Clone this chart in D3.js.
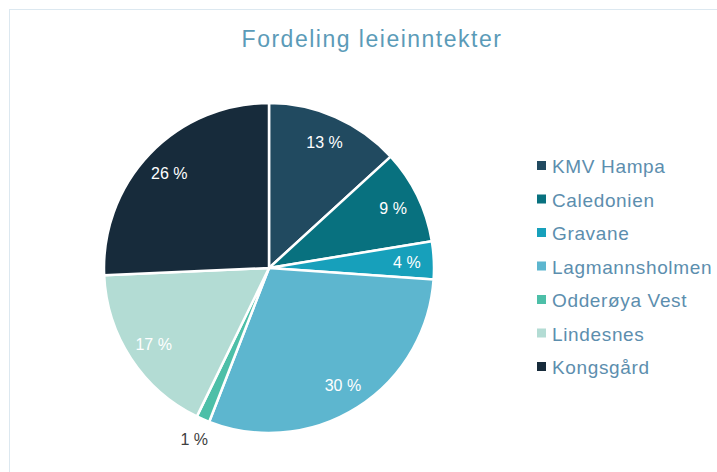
<!DOCTYPE html>
<html>
<head>
<meta charset="utf-8">
<script src="https://cdn.jsdelivr.net/npm/d3@7"></script>
<style>
  html, body { margin: 0; padding: 0; background: #ffffff; }
  svg { display: block; font-family: "Liberation Sans", Arial, sans-serif; }
</style>
</head>
<body>
<svg id="chart" width="717" height="472"></svg>
<script>
const title = "Fordeling leieinntekter";
const categories = ["KMV Hampa", "Caledonien", "Gravane", "Lagmannsholmen", "Odderøya Vest", "Lindesnes", "Kongsgård"];
const shares = [13.2, 9.2, 3.7, 29.8, 1.3, 17.1, 25.7];
const labels = ["13 %", "9 %", "4 %", "30 %", "1 %", "17 %", "26 %"];
const colors = ["#214a60", "#08717f", "#17a0bb", "#5db6cf", "#4dbfa8", "#b3dcd4", "#172b3b"];

const data = categories.map((c, i) => ({ name: c, value: shares[i], label: labels[i], color: colors[i] }));

const svg = d3.select("#chart");
const W = 717, H = 472;

// chart area frame
svg.append("rect")
  .attr("x", 9.5).attr("y", 9.5)
  .attr("width", W - 9).attr("height", H)
  .attr("fill", "#ffffff")
  .attr("stroke", "#dce8f0").attr("stroke-width", 1);

// title
svg.append("text")
  .attr("x", 372).attr("y", 47)
  .attr("text-anchor", "middle")
  .attr("font-size", 23)
  .attr("letter-spacing", 1.5)
  .attr("fill", "#5b9bb8")
  .text(title);

const cx = 269, cy = 268, R = 165;
const g = svg.append("g").attr("transform", `translate(${cx},${cy})`);

const pie = d3.pie().value(d => d.value).sort(null);
const arc = d3.arc().innerRadius(0).outerRadius(R);
const arcs = pie(data);

g.selectAll("path.slice")
  .data(arcs)
  .join("path")
  .attr("class", "slice")
  .attr("d", arc)
  .attr("fill", d => d.data.color)
  .attr("stroke", "#ffffff")
  .attr("stroke-width", 2.5)
  .attr("stroke-linejoin", "round");

const inLabel = d3.arc().innerRadius(138).outerRadius(138);
const outLabel = d3.arc().innerRadius(R + 22).outerRadius(R + 22);

g.selectAll("text.lbl")
  .data(arcs)
  .join("text")
  .attr("class", "lbl")
  .each(function(d) {
    const outside = d.data.value < 2;
    const p = (outside ? outLabel : inLabel).centroid(d);
    d3.select(this)
      .attr("x", p[0]).attr("y", p[1] + 6)
      .attr("fill", outside ? "#404040" : "#ffffff");
  })
  .attr("text-anchor", "middle")
  .attr("font-size", 16)
  .text(d => d.data.label);

// legend
const legend = svg.append("g").attr("transform", "translate(537,166)");
const row = legend.selectAll("g")
  .data(data)
  .join("g")
  .attr("transform", (d, i) => `translate(0,${i * 33.5})`);
row.append("rect")
  .attr("x", 0).attr("y", -5)
  .attr("width", 9).attr("height", 9)
  .attr("fill", d => d.color);
row.append("text")
  .attr("x", 15).attr("y", 7)
  .attr("font-size", 19)
  .attr("letter-spacing", 0.65)
  .attr("fill", "#5c8eae")
  .text(d => d.name);
</script>
</body>
</html>
